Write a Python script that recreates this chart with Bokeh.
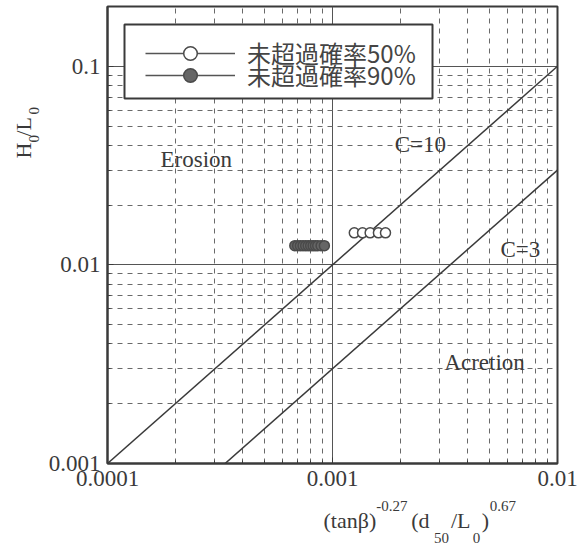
import numpy as np
from bokeh.plotting import figure
from bokeh.layouts import row, column
from bokeh.models import Range1d, FixedTicker, Legend, LegendItem, BoxAnnotation
from bokeh.core.properties import value
from bokeh.embed import file_html
from bokeh.resources import INLINE

# ---- data ----
x_ticks = [0.0001, 0.001, 0.01]
x_tick_labels = ["0.0001", "0.001", "0.01"]
y_ticks = [0.001, 0.01, 0.1]
y_tick_labels = ["0.001", "0.01", "0.1"]
y_top = 0.2

c_values = [10, 3]

p50_x = [0.00125, 0.00136, 0.00147, 0.00160, 0.00172]
p50_y = [0.0145, 0.0145, 0.0145, 0.0145, 0.0145]

p90_x = [0.00068, 0.00070, 0.00072, 0.00074, 0.00076, 0.00078,
         0.00080, 0.00082, 0.00084, 0.00086, 0.00089, 0.00092]
p90_y = [0.0125] * 12

legend_labels = ["未超過確率50%", "未超過確率90%"]

note_text = ["Erosion", "C=10", "C=3", "Acretion"]
note_x = [0.000172, 0.00189, 0.00558, 0.00314]
note_y = [0.034, 0.0405, 0.0120, 0.00324]

x_title_main = ["(tanβ)", "(d", "/L", ")"]
x_title_sup = ["-0.27", "0.67"]
x_title_sub = ["50", "0"]
y_title_main = ["H", "/L"]
y_title_sub = ["0", "0"]

# ---- style ----
SERIF = "Liberation Serif"
INK = "#3a3a3a"

def bare(w, h, xr, yr):
    f = figure(width=w, height=h, x_range=Range1d(*xr), y_range=Range1d(*yr),
               x_axis_location=None, y_axis_location=None, min_border=0,
               output_backend="svg", toolbar_location=None)
    f.grid.visible = False
    f.outline_line_color = None
    return f

# ---- main figure ----
FW, FH = 450, 457
BL, BR = 60, 31
p = figure(x_axis_type="log", y_axis_type="log",
           x_range=Range1d(x_ticks[0], x_ticks[-1]),
           y_range=Range1d(y_ticks[0], y_top),
           frame_width=FW, frame_height=FH,
           min_border_left=BL, min_border_right=BR,
           min_border_top=6, min_border_bottom=36,
           output_backend="svg", toolbar_location=None)

p.outline_line_color = INK
p.outline_line_width = 2

def minors(ticks):
    out = []
    for t in ticks:
        out += [m * t for m in range(2, 10)]
    return out

x_minor = minors(x_ticks[:-1])
y_minor = [v for v in minors(y_ticks) if v <= y_top * 1.0001]

p.xaxis.ticker = FixedTicker(ticks=x_ticks, minor_ticks=x_minor)
p.yaxis.ticker = FixedTicker(ticks=y_ticks, minor_ticks=y_minor)
p.xaxis.major_label_overrides = {t: l for t, l in zip(x_ticks, x_tick_labels)}
p.yaxis.major_label_overrides = {t: l for t, l in zip(y_ticks, y_tick_labels)}

for ax in (p.xaxis, p.yaxis):
    ax.axis_line_color = INK
    ax.axis_line_width = 2
    ax.major_tick_in = 6
    ax.major_tick_out = 0
    ax.minor_tick_in = 3
    ax.minor_tick_out = 0
    ax.major_tick_line_color = INK
    ax.minor_tick_line_color = INK
    ax.major_label_text_font = SERIF
    ax.major_label_text_font_size = "23px"
    ax.major_label_text_color = INK
    ax.major_label_standoff = 7

for g in (p.xgrid, p.ygrid):
    g.grid_line_color = "#555555"
    g.grid_line_width = 1
    g.minor_grid_line_color = "#6a6a6a"
    g.minor_grid_line_width = 1
    g.minor_grid_line_dash = "5 5"

# C lines
xl = np.array([x_ticks[0], x_ticks[-1]])
for c in c_values:
    p.line(xl, c * xl, line_color=INK, line_width=1.5)

# points
s50 = p.scatter(p50_x, p50_y, marker="circle", size=10,
                fill_color="white", line_color="#4a4a4a", line_width=1.5)
s90 = p.scatter(p90_x, p90_y, marker="circle", size=10,
                fill_color="#666666", line_color="#4a4a4a", line_width=1.5)

# region / C texts
p.text(x=note_x, y=note_y, text=note_text, text_font=value(SERIF),
       text_font_size="23px", text_baseline="middle", text_color=INK)

# legend: one framed box + two single-row legends placed inside it
box = BoxAnnotation(left=17, right=325, top=FH - 18, bottom=FH - 92,
                    left_units="screen", right_units="screen",
                    top_units="screen", bottom_units="screen",
                    fill_color="white", fill_alpha=1.0,
                    line_color=INK, line_width=2, line_alpha=1.0)
p.add_layout(box)

nan2 = [np.nan, np.nan]
row_centers = [FH - 47, FH - 69]
ITEM_H = 34
for lab, sc, cy in zip(legend_labels, [s50, s90], row_centers):
    ln = p.line(nan2, nan2, line_color="#555555", line_width=1.5)
    lg = Legend(items=[LegendItem(label=lab, renderers=[ln, sc])],
                location=(38, int(cy - ITEM_H / 2)), margin=0, padding=0,
                spacing=0, glyph_width=90, glyph_height=ITEM_H,
                label_height=ITEM_H, label_standoff=12,
                label_text_font="Noto Sans CJK JP", label_text_font_size="24px",
                label_text_color="#444444",
                border_line_color=None, background_fill_alpha=0.0)
    p.add_layout(lg)

# ---- y title panel (1 unit = 1 px; x = page x, y = 545 - page y) ----
yt = bare(45, 545, (0, 45), (0, 545))
yt.text(x=[22.5, 22.5], y=[387, 409], text=y_title_main, angle=np.pi / 2,
        text_font=value(SERIF), text_font_size="22px", text_color=INK,
        text_baseline="middle")
yt.text(x=[33.5, 33.5], y=[403, 431], text=y_title_sub, angle=np.pi / 2,
        text_font=value(SERIF), text_font_size="15px", text_color=INK,
        text_baseline="middle")

# ---- x title panel (frame is aligned with the main frame;
#      x = page x - 45, y = 545 - page y) ----
xt = bare(BL + FW + BR, 46, (BL, BL + FW), (0, 46))
xt.text(x=[277, 365, 405, 436], y=[25, 25, 25, 25], text=x_title_main,
        text_font=value(SERIF), text_font_size="22px", text_color=INK,
        text_baseline="middle")
xt.text(x=[330, 444], y=[39.5, 39.5], text=x_title_sup,
        text_font=value(SERIF), text_font_size="15px", text_color=INK,
        text_baseline="middle")
xt.text(x=[388, 427], y=[7.5, 7.5], text=x_title_sub,
        text_font=value(SERIF), text_font_size="15px", text_color=INK,
        text_baseline="middle")

layout = row(yt, column(p, xt))
open("out.html", "w").write(file_html(layout, INLINE))
